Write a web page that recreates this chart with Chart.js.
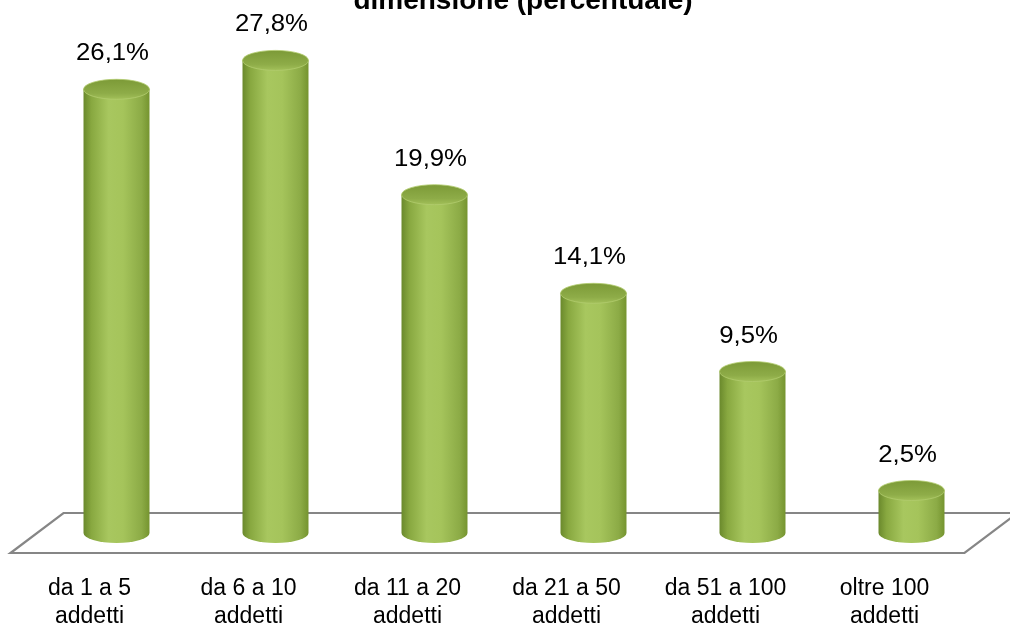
<!DOCTYPE html>
<html>
<head>
<meta charset="utf-8">
<script src="https://cdn.jsdelivr.net/npm/chart.js@4"></script>
<style>
  html, body { margin: 0; padding: 0; background: #ffffff; }
  #wrap { width: 1010px; height: 629px; position: relative; }
</style>
</head>
<body>
<div id="wrap"><canvas id="c"></canvas></div>
<script>
// Company size classes (two-line axis labels) and their shares in percent
const categories = [
  ['da 1 a 5', 'addetti'],
  ['da 6 a 10', 'addetti'],
  ['da 11 a 20', 'addetti'],
  ['da 21 a 50', 'addetti'],
  ['da 51 a 100', 'addetti'],
  ['oltre 100', 'addetti']
];
const shares = [26.1, 27.8, 19.9, 14.1, 9.5, 2.5];
const titleText = 'dimensione (percentuale)';
const yRange = [0, 30];

const FONT = '"Liberation Sans", Arial, Helvetica, sans-serif';

function formatShare(v) {
  return v.toFixed(1).replace('.', ',') + '%';
}

// Title line, partly above the top edge of the canvas
const titlePlugin = {
  id: 'topTitle',
  afterDraw(chart) {
    const ctx = chart.ctx;
    ctx.save();
    ctx.font = 'bold 28px ' + FONT;
    ctx.fillStyle = '#000000';
    ctx.textAlign = 'center';
    ctx.textBaseline = 'alphabetic';
    ctx.fillText(titleText, 523, 9);
    ctx.restore();
  }
};

// Perspective floor under the bars
const floorPlugin = {
  id: 'floor',
  beforeDatasetsDraw(chart) {
    const { ctx, chartArea: a } = chart;
    const half = 20, slant = 26.5;
    const yTop = a.bottom - half, yBot = a.bottom + half;
    const xTL = a.left + slant, xBL = a.left - slant;
    const xTR = a.right + slant, xBR = a.right - slant;
    ctx.save();
    ctx.strokeStyle = '#868686';
    ctx.lineWidth = 2.2;
    ctx.lineJoin = 'miter';
    ctx.beginPath();
    ctx.moveTo(xTL, yTop);
    ctx.lineTo(xTR, yTop);
    ctx.lineTo(xBR, yBot);
    ctx.lineTo(xBL, yBot);
    ctx.closePath();
    ctx.stroke();
    ctx.restore();
  }
};

// Cylinders drawn on top of each bar element, plus value labels
const cylinderPlugin = {
  id: 'cylinders',
  afterDatasetsDraw(chart) {
    const ctx = chart.ctx;
    const meta = chart.getDatasetMeta(0);
    const values = chart.data.datasets[0].data;
    meta.data.forEach((bar, i) => {
      const { x, y, base, width } = bar.getProps(['x', 'y', 'base', 'width'], true);
      const rx = width / 2, ry = 10;
      ctx.save();

      // body
      const g = ctx.createLinearGradient(x - rx, 0, x + rx, 0);
      g.addColorStop(0, '#6a892c');
      g.addColorStop(0.12, '#88a840');
      g.addColorStop(0.38, '#a8c75f');
      g.addColorStop(0.6, '#a5c45b');
      g.addColorStop(0.88, '#8cab46');
      g.addColorStop(1, '#75942f');
      ctx.fillStyle = g;
      ctx.beginPath();
      ctx.moveTo(x - rx, y);
      ctx.lineTo(x - rx, base);
      ctx.ellipse(x, base, rx, ry, 0, Math.PI, 0, true);
      ctx.lineTo(x + rx, y);
      ctx.closePath();
      ctx.fill();

      // top cap
      const gt = ctx.createLinearGradient(0, y - ry, 0, y + ry);
      gt.addColorStop(0, '#7c9a37');
      gt.addColorStop(0.7, '#8eac48');
      gt.addColorStop(1, '#a2c059');
      ctx.fillStyle = gt;
      ctx.beginPath();
      ctx.ellipse(x, y, rx, ry, 0, 0, Math.PI * 2);
      ctx.fill();
      ctx.strokeStyle = 'rgba(178,204,110,0.8)';
      ctx.lineWidth = 1;
      ctx.stroke();

      // value label, slightly widened
      ctx.font = '23px ' + FONT;
      ctx.fillStyle = '#000000';
      ctx.textAlign = 'center';
      ctx.textBaseline = 'alphabetic';
      ctx.translate(x - 4, y - 29);
      ctx.scale(1.12, 1);
      ctx.fillText(formatShare(values[i]), 0, 0);
      ctx.restore();
    });
  }
};

new Chart(document.getElementById('c'), {
  type: 'bar',
  data: {
    labels: categories,
    datasets: [{
      data: shares,
      backgroundColor: 'rgba(0,0,0,0)',
      borderWidth: 0,
      categoryPercentage: 1,
      barPercentage: 0.415
    }]
  },
  options: {
    responsive: true,
    maintainAspectRatio: false,
    animation: false,
    layout: { padding: { left: 37, right: 19, top: 23, bottom: 0 } },
    plugins: {
      legend: { display: false },
      tooltip: { enabled: false },
      title: { display: false }
    },
    scales: {
      x: {
        grid: { display: false, drawTicks: false },
        border: { display: false },
        ticks: {
          color: '#000000',
          font: { family: FONT, size: 23, lineHeight: 1.2 },
          padding: 42,
          labelOffset: -27,
          maxRotation: 0,
          autoSkip: false
        },
        afterFit(scale) { scale.height = 96; }
      },
      y: {
        display: false,
        min: yRange[0],
        max: yRange[1]
      }
    }
  },
  plugins: [floorPlugin, cylinderPlugin, titlePlugin]
});
</script>
</body>
</html>
